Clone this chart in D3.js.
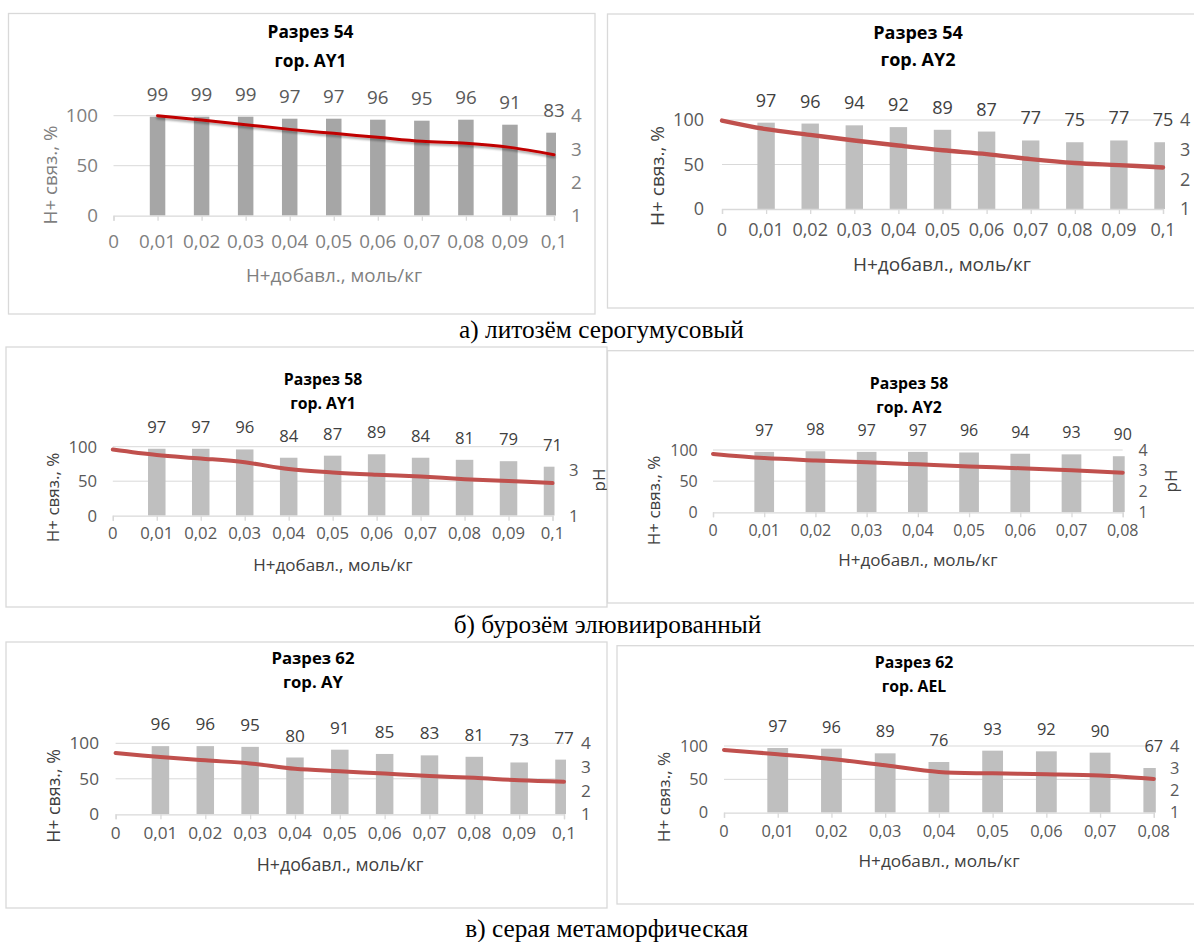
<!DOCTYPE html>
<html lang="ru">
<head>
<meta charset="utf-8">
<script src="https://cdn.jsdelivr.net/npm/d3@7"></script>
<style>
  html, body { margin: 0; padding: 0; background: #fff; }
  svg { display: block; }
</style>
</head>
<body>
<svg id="fig" width="1194" height="942"></svg>
<script>
// Added H+ (mol/kg) categories
const categories10 = ["0", "0,01", "0,02", "0,03", "0,04", "0,05", "0,06", "0,07", "0,08", "0,09", "0,1"];
const categories8 = ["0", "0,01", "0,02", "0,03", "0,04", "0,05", "0,06", "0,07", "0,08"];

// Bound H+ (%) – bars; pH – line
const bound54AY1 = [null, 99, 99, 99, 97, 97, 96, 95, 96, 91, 83];
const ph54AY1 = [null, 4.00, 3.87, 3.73, 3.59, 3.47, 3.35, 3.23, 3.17, 3.05, 2.83];
const bound54AY2 = [null, 97, 96, 94, 92, 89, 87, 77, 75, 77, 75];
const ph54AY2 = [3.98, 3.69, 3.50, 3.31, 3.14, 2.98, 2.85, 2.68, 2.55, 2.48, 2.40];
const bound58AY1 = [null, 97, 97, 96, 84, 87, 89, 84, 81, 79, 71];
const ph58AY1 = [3.88, 3.64, 3.49, 3.32, 3.03, 2.88, 2.78, 2.70, 2.59, 2.51, 2.42];
const bound58AY2 = [null, 97, 98, 97, 97, 96, 94, 93, 90];
const ph58AY2 = [3.81, 3.61, 3.50, 3.41, 3.31, 3.21, 3.12, 3.02, 2.91];
const bound62AY = [null, 96, 96, 95, 80, 91, 85, 83, 81, 73, 77];
const ph62AY = [3.59, 3.42, 3.28, 3.15, 2.92, 2.82, 2.72, 2.62, 2.54, 2.44, 2.38];
const bound62AEL = [null, 97, 96, 89, 76, 93, 92, 90, 67];
const ph62AEL = [3.82, 3.63, 3.42, 3.13, 2.83, 2.77, 2.73, 2.67, 2.52];

const leftTicks = [0, 50, 100];
const rightTicksFull = [1, 2, 3, 4];
const rightTicksOdd = [1, 3];

const titles = [
  ["Разрез 54", "гор. AY1"], ["Разрез 54", "гор. AY2"],
  ["Разрез 58", "гор. AY1"], ["Разрез 58", "гор. AY2"],
  ["Разрез 62", "гор. AY"], ["Разрез 62", "гор. AEL"]
];
const captions = ["а) литозём серогумусовый", "б) бурозём элювиированный", "в) серая метаморфическая"];
const yTitle = "H+ связ., %";
const xTitle = "H+добавл., моль/кг";
const phTitle = "pH";

const FONT = "'Open Sans', 'Noto Sans', sans-serif";
const svg = d3.select("#fig");

// Panel layouts
const panels = [
  { cats: categories10, bars: bound54AY1, ph: ph54AY1, title: titles[0], rTicks: rightTicksFull, phLabel: false,
    box: [8.5, 13.5, 595, 314], x0: 113.5, x1: 554, yTop: 115.7, yBot: 215.7, bw: 15.5,
    tfs: 17.3, fs: 18.8, afs: 18.8, t1: 32, t2: 61, tx: 310.5, xtY: 241, xTitleY: 275, xTitleX: 334,
    yTitleX: 50, yTitleY: 175, lRight: 98, rLeft: 571,
    barColor: "#a6a6a6", lineColor: "#c00000", lineW: 3, shadow: true,
    tickColor: "#7f7f7f", labelColor: "#595959", titleColor: "#7f7f7f" },
  { cats: categories10, bars: bound54AY2, ph: ph54AY2, title: titles[1], rTicks: rightTicksFull, phLabel: false,
    box: [607.5, 14, 1210, 308], x0: 722, x1: 1163, yTop: 120, yBot: 209, bw: 17.4,
    tfs: 18, fs: 18, afs: 19, t1: 32.3, t2: 59.3, tx: 918, xtY: 230, xTitleY: 264, xTitleX: 942,
    yTitleX: 657, yTitleY: 176, lRight: 704, rLeft: 1180,
    barColor: "#bfbfbf", lineColor: "#c0504d", lineW: 4.4, shadow: false,
    tickColor: "#595959", labelColor: "#404040", titleColor: "#404040" },
  { cats: categories10, bars: bound58AY1, ph: ph58AY1, title: titles[2], rTicks: rightTicksOdd, phLabel: true,
    box: [6, 347, 607, 607], x0: 112.8, x1: 552.5, yTop: 446.7, yBot: 515.7, bw: 17.5,
    tfs: 15.8, fs: 16.7, afs: 17, t1: 379, t2: 403, tx: 323, xtY: 533, xTitleY: 565, xTitleX: 333,
    yTitleX: 53.5, yTitleY: 497.5, lRight: 97, rLeft: 569, phX: 599, phY: 480,
    barColor: "#bfbfbf", lineColor: "#c0504d", lineW: 4, shadow: false,
    tickColor: "#595959", labelColor: "#404040", titleColor: "#404040" },
  { cats: categories8, bars: bound58AY2, ph: ph58AY2, title: titles[3], rTicks: rightTicksFull, phLabel: true,
    box: [607.5, 350.7, 1210, 603], x0: 713, x1: 1122.7, yTop: 450, yBot: 512.3, bw: 19.7,
    tfs: 15.8, fs: 16, afs: 17, t1: 383, t2: 407, tx: 909, xtY: 530, xTitleY: 560, xTitleX: 918,
    yTitleX: 654, yTitleY: 500.5, lRight: 697.7, rLeft: 1138.6, phX: 1171, phY: 481,
    barColor: "#bfbfbf", lineColor: "#c0504d", lineW: 4, shadow: false,
    tickColor: "#595959", labelColor: "#404040", titleColor: "#404040" },
  { cats: categories10, bars: bound62AY, ph: ph62AY, title: titles[4], rTicks: rightTicksFull, phLabel: false,
    box: [6, 642, 607, 908], x0: 115.6, x1: 564, yTop: 743.3, yBot: 814.3, bw: 17.5,
    tfs: 16.7, fs: 17.2, afs: 17.8, t1: 658, t2: 682, tx: 313, xtY: 833, xTitleY: 865, xTitleX: 340,
    yTitleX: 53.5, yTitleY: 796, lRight: 99, rLeft: 581,
    barColor: "#bfbfbf", lineColor: "#c0504d", lineW: 4, shadow: false,
    tickColor: "#595959", labelColor: "#404040", titleColor: "#404040" },
  { cats: categories8, bars: bound62AEL, ph: ph62AEL, title: titles[5], rTicks: rightTicksFull, phLabel: false,
    box: [617, 645.7, 1210, 904], x0: 724, x1: 1153.8, yTop: 746, yBot: 812.7, bw: 20.8,
    tfs: 15.8, fs: 16.4, afs: 17.2, t1: 662, t2: 686, tx: 914, xtY: 831, xTitleY: 861, xTitleX: 939,
    yTitleX: 663.5, yTitleY: 797, lRight: 708, rLeft: 1170,
    barColor: "#bfbfbf", lineColor: "#c0504d", lineW: 4, shadow: false,
    tickColor: "#595959", labelColor: "#404040", titleColor: "#404040" }
];

// Shadow filter for the first chart's line
const defs = svg.append("defs");
const shadowF = defs.append("filter").attr("id", "lineShadow")
  .attr("x", "-5%").attr("y", "-50%").attr("width", "110%").attr("height", "200%");
shadowF.append("feDropShadow").attr("dx", 0).attr("dy", 2).attr("stdDeviation", 1)
  .attr("flood-color", "#000").attr("flood-opacity", 0.35);

panels.forEach((p, i) => {
  const g = svg.append("g").attr("class", "panel");
  const [bx0, by0, bx1, by1] = p.box;

  g.append("rect").attr("x", bx0).attr("y", by0).attr("width", bx1 - bx0).attr("height", by1 - by0)
    .attr("fill", "#fff").attr("stroke", "#d9d9d9").attr("stroke-width", 1.3);

  const x = d3.scalePoint().domain(p.cats).range([p.x0, p.x1]).padding(0);
  const yL = d3.scaleLinear().domain([0, 100]).range([p.yBot, p.yTop]);
  const yR = d3.scaleLinear().domain([1, 4]).range([p.yBot, p.yTop]);

  // gridlines
  g.selectAll(".grid").data(leftTicks.filter(v => v > 0)).join("line")
    .attr("x1", p.x0).attr("x2", p.x1)
    .attr("y1", d => yL(d)).attr("y2", d => yL(d))
    .attr("stroke", "#d9d9d9").attr("stroke-width", 1);

  // bars (clipped at the plot edges)
  const clipId = "clip" + i;
  defs.append("clipPath").attr("id", clipId).append("rect")
    .attr("x", p.x0).attr("y", p.yTop - 60).attr("width", p.x1 - p.x0 + 2).attr("height", p.yBot - p.yTop + 60);
  const barData = p.cats.map((c, k) => ({ c, v: p.bars[k] })).filter(d => d.v != null);
  g.append("g").attr("clip-path", `url(#${clipId})`)
    .selectAll("rect").data(barData).join("rect")
    .attr("x", d => x(d.c) - p.bw / 2).attr("width", p.bw)
    .attr("y", d => yL(d.v)).attr("height", d => yL(0) - yL(d.v))
    .attr("fill", p.barColor);

  // x axis
  const xAxis = d3.axisBottom(x).tickSize(5).tickFormat("");
  const ax = g.append("g").attr("transform", `translate(0,${p.yBot})`).call(xAxis);
  ax.select(".domain").attr("stroke", "#d9d9d9").attr("stroke-width", 1.3);
  ax.selectAll(".tick line").attr("stroke", "#d9d9d9").attr("stroke-width", 1.3);

  g.selectAll(".xlab").data(p.cats).join("text")
    .attr("x", d => x(d)).attr("y", p.xtY).attr("dy", "0.35em")
    .attr("text-anchor", "middle").attr("font-family", FONT).attr("font-size", p.fs)
    .attr("fill", p.tickColor).text(d => d);

  // left axis labels
  g.selectAll(".ylab").data(leftTicks).join("text")
    .attr("x", p.lRight).attr("y", d => yL(d)).attr("dy", "0.35em")
    .attr("text-anchor", "end").attr("font-family", FONT).attr("font-size", p.fs)
    .attr("fill", p.tickColor).text(d => d);

  // right axis labels (pH)
  g.selectAll(".rlab").data(p.rTicks).join("text")
    .attr("x", p.rLeft).attr("y", d => yR(d)).attr("dy", "0.35em")
    .attr("text-anchor", "start").attr("font-family", FONT).attr("font-size", p.fs)
    .attr("fill", p.tickColor).text(d => d);

  // pH line
  const line = d3.line()
    .defined(d => d.v != null)
    .x(d => x(d.c)).y(d => yR(d.v))
    .curve(d3.curveCatmullRom.alpha(0.5));
  const phData = p.cats.map((c, k) => ({ c, v: p.ph[k] }));
  g.append("path").datum(phData)
    .attr("d", line).attr("fill", "none")
    .attr("stroke", p.lineColor).attr("stroke-width", p.lineW)
    .attr("stroke-linecap", "round").attr("stroke-linejoin", "round")
    .attr("filter", p.shadow ? "url(#lineShadow)" : null);

  // data labels above bars
  g.selectAll(".vlab").data(barData).join("text")
    .attr("x", d => x(d.c)).attr("y", d => yL(d.v) - 16)
    .attr("text-anchor", "middle").attr("font-family", FONT).attr("font-size", p.fs)
    .attr("fill", p.labelColor).text(d => d.v);

  // chart title
  g.append("text").attr("x", p.tx).attr("y", p.t1).attr("dy", "0.35em")
    .attr("text-anchor", "middle").attr("font-family", FONT).attr("font-weight", 700)
    .attr("font-size", p.tfs).attr("fill", "#000").text(p.title[0]);
  g.append("text").attr("x", p.tx).attr("y", p.t2).attr("dy", "0.35em")
    .attr("text-anchor", "middle").attr("font-family", FONT).attr("font-weight", 700)
    .attr("font-size", p.tfs).attr("fill", "#000").text(p.title[1]);

  // axis titles
  g.append("text").attr("x", p.xTitleX).attr("y", p.xTitleY).attr("dy", "0.35em")
    .attr("text-anchor", "middle").attr("font-family", FONT).attr("font-size", p.afs)
    .attr("fill", p.titleColor).text(xTitle);
  g.append("text")
    .attr("transform", `translate(${p.yTitleX},${p.yTitleY}) rotate(-90)`).attr("dy", "0.35em")
    .attr("text-anchor", "middle").attr("font-family", FONT).attr("font-size", p.afs)
    .attr("fill", p.titleColor).text(yTitle);
  if (p.phLabel) {
    g.append("text")
      .attr("transform", `translate(${p.phX},${p.phY}) rotate(-90)`).attr("dy", "0.35em")
      .attr("text-anchor", "middle").attr("font-family", FONT).attr("font-size", p.afs)
      .attr("fill", p.titleColor).text(phTitle);
  }
});

// group captions
const capPos = [[601.5, 338], [607.5, 633], [606.7, 937]];
svg.selectAll(".caption").data(captions).join("text")
  .attr("x", (d, k) => capPos[k][0]).attr("y", (d, k) => capPos[k][1])
  .attr("text-anchor", "middle")
  .attr("font-family", "'Liberation Serif', 'Times New Roman', serif")
  .attr("font-size", 25.3).attr("fill", "#000").text(d => d);
</script>
</body>
</html>
